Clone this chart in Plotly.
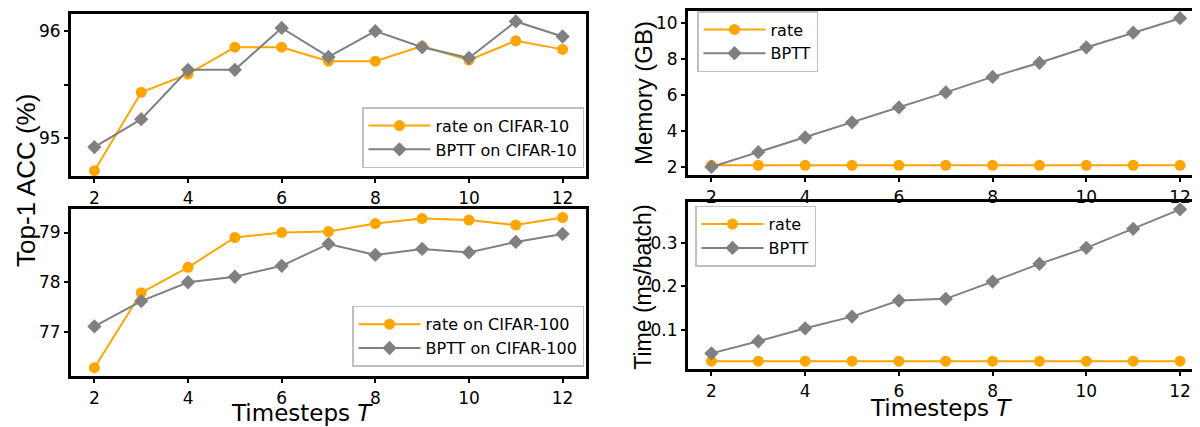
import plotly.graph_objects as go

T = [2, 3, 4, 5, 6, 7, 8, 9, 10, 11, 12]

acc10_rate = [94.70, 95.43, 95.60, 95.85, 95.85, 95.72, 95.72, 95.86, 95.73, 95.91, 95.83]
acc10_bptt = [94.92, 95.18, 95.64, 95.64, 96.03, 95.76, 96.00, 95.85, 95.75, 96.09, 95.95]

acc100_rate = [76.28, 77.79, 78.30, 78.90, 79.00, 79.02, 79.18, 79.28, 79.25, 79.15, 79.30]
acc100_bptt = [77.11, 77.62, 78.00, 78.11, 78.33, 78.77, 78.55, 78.67, 78.60, 78.81, 78.97]

mem_rate = [2.09] * 11
mem_bptt = [2.00, 2.82, 3.63, 4.47, 5.30, 6.13, 6.99, 7.77, 8.62, 9.44, 10.24]

time_rate = [0.027] * 11
time_bptt = [0.045, 0.073, 0.103, 0.130, 0.167, 0.171, 0.211, 0.252, 0.289, 0.333, 0.378]

x_ticks = [2, 4, 6, 8, 10, 12]

ORANGE = "#FFA500"
GRAY = "#808080"
W, H = 1200, 427
OFF = 8  # page body margin offset in the browser
FONT = "DejaVu Sans, Liberation Sans, sans-serif"
ARIAL = "Liberation Sans, Arial, sans-serif"


def px_x(p):
    return (p - OFF) / W


def px_y(p):
    return 1 - (p - OFF) / H


fig = go.Figure()


def add_pair(r, b, rname, bname, xa, ya, leg):
    fig.add_trace(go.Scatter(x=T, y=r, name=rname, mode="lines+markers",
                             line=dict(color=ORANGE, width=2),
                             marker=dict(symbol="circle", size=11, color=ORANGE),
                             xaxis=xa, yaxis=ya, legend=leg))
    fig.add_trace(go.Scatter(x=T, y=b, name=bname, mode="lines+markers",
                             line=dict(color=GRAY, width=2),
                             marker=dict(symbol="diamond", size=11, color=GRAY),
                             xaxis=xa, yaxis=ya, legend=leg))


add_pair(acc10_rate, acc10_bptt, "rate on CIFAR-10", "BPTT on CIFAR-10", "x", "y", "legend")
add_pair(acc100_rate, acc100_bptt, "rate on CIFAR-100", "BPTT on CIFAR-100", "x2", "y2", "legend2")
add_pair(mem_rate, mem_bptt, "rate", "BPTT", "x3", "y3", "legend3")
add_pair(time_rate, time_bptt, "rate", "BPTT", "x4", "y4", "legend4")

tickfont = dict(family=FONT, size=17, color="black")

common_x = dict(tickvals=x_ticks, showline=True, linecolor="black", linewidth=3,
                mirror=True, ticks="outside", ticklen=4, tickwidth=1.5,
                tickcolor="black", showgrid=False, zeroline=False, tickfont=tickfont,
                ticklabelstandoff=1)
common_y = dict(showline=True, linecolor="black", linewidth=3,
                ticks="outside", ticklen=4, tickwidth=1.5,
                tickcolor="black", showgrid=False, zeroline=False, tickfont=tickfont,
                ticklabelstandoff=0)

left_dom = [px_x(71), px_x(586)]
right_dom = [px_x(688), px_x(1203.5)]

fig.update_layout(
    xaxis=dict(domain=left_dom, range=[1.5, 12.5], anchor="y", **common_x),
    yaxis=dict(domain=[px_y(175), px_y(11)], range=[94.65, 96.16], anchor="x",
               tickvals=[95, 95.5, 96], ticktext=["95", "", "96"], mirror=True, **common_y),
    xaxis2=dict(domain=left_dom, range=[1.5, 12.5], anchor="y2", **common_x),
    yaxis2=dict(domain=[px_y(377), px_y(208)], range=[76.12, 79.48], anchor="x2",
                tickvals=[77, 78, 79], mirror=True, **common_y),
    xaxis3=dict(domain=right_dom, range=[1.5, 12.5], anchor="y3", **common_x),
    yaxis3=dict(domain=[px_y(174), px_y(8)], range=[1.55, 10.64], anchor="x3",
                tickvals=[2, 4, 6, 8, 10], **common_y),
    xaxis4=dict(domain=right_dom, range=[1.5, 12.5], anchor="y4", **common_x),
    yaxis4=dict(domain=[px_y(370), px_y(201)], range=[0.0094, 0.3956], anchor="x4",
                tickvals=[0.1, 0.2, 0.3], ticktext=["0.1", "0.2", "0.3"], **common_y),
    width=W, height=H,
    margin=dict(l=0, r=0, t=0, b=0),
    plot_bgcolor="white", paper_bgcolor="white",
)

legfont = dict(family=FONT, size=16, color="black")
legstyle = dict(bgcolor="rgba(255,255,255,0.85)", bordercolor="#c0c0c0", borderwidth=1.5,
                font=legfont, itemwidth=62, tracegroupgap=0)

fig.update_layout(
    legend=dict(x=px_x(584), y=px_y(167), xanchor="right", yanchor="bottom", **legstyle),
    legend2=dict(x=px_x(584), y=px_y(368), xanchor="right", yanchor="bottom", **legstyle),
    legend3=dict(x=px_x(697), y=px_y(8), xanchor="left", yanchor="top", **legstyle),
    legend4=dict(x=px_x(695), y=px_y(205), xanchor="left", yanchor="top", **legstyle),
)

fig.add_annotation(text="Top-1 ACC (%)", x=px_x(26), y=px_y(180), xref="paper", yref="paper",
                   xanchor="center", yanchor="middle",
                   textangle=-90, showarrow=False, font=dict(family=ARIAL, size=26, color="black"))
fig.add_annotation(text="Memory (GB)", x=px_x(643), y=px_y(91), xref="paper", yref="paper",
                   xanchor="center", yanchor="middle",
                   textangle=-90, showarrow=False, font=dict(family=ARIAL, size=24, color="black"))
fig.add_annotation(text="Time (ms/batch)", x=px_x(643), y=px_y(288), xref="paper", yref="paper",
                   xanchor="center", yanchor="middle",
                   textangle=-90, showarrow=False, font=dict(family=ARIAL, size=23, color="black"))
fig.add_annotation(text="Timesteps <i>T</i>", x=px_x(302), y=px_y(415), xref="paper", yref="paper",
                   xanchor="center", yanchor="middle",
                   showarrow=False, font=dict(family=FONT, size=23, color="black"))
fig.add_annotation(text="Timesteps <i>T</i>", x=px_x(941), y=px_y(410), xref="paper", yref="paper",
                   xanchor="center", yanchor="middle",
                   showarrow=False, font=dict(family=FONT, size=23, color="black"))

fig.write_html("out.html")
